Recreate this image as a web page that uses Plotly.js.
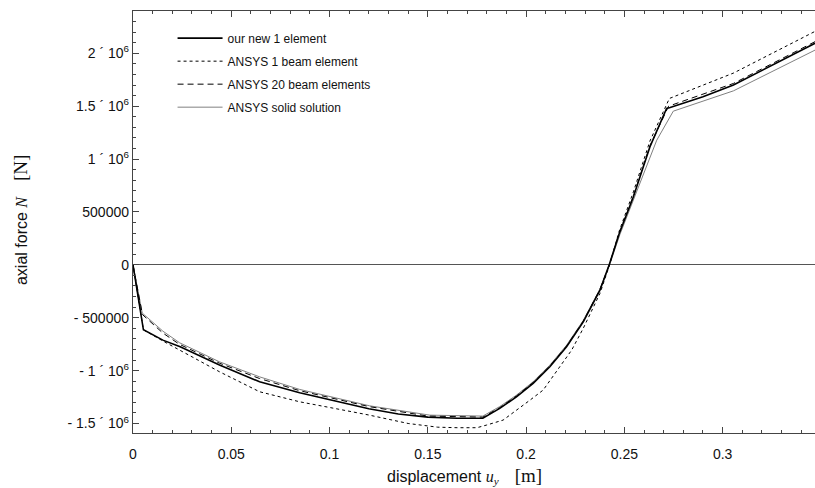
<!DOCTYPE html>
<html>
<head>
<meta charset="utf-8">
<script src="https://cdn.plot.ly/plotly-3.0.1.min.js"></script>
<style>html,body{margin:0;padding:0;background:#fff;}#chart{width:815px;height:488px;}</style>
</head>
<body>
<div id="chart"></div>
<script>
// displacement u_y [m] and axial force N [N]
var newX = [0, 0.0053, 0.0152, 0.024, 0.044, 0.0644, 0.0848, 0.1052, 0.12, 0.135, 0.15, 0.165, 0.178, 0.1866, 0.1951, 0.2036, 0.2121, 0.2206, 0.2291, 0.2376, 0.2423, 0.2474, 0.2546, 0.263, 0.2715, 0.2733, 0.29, 0.3055, 0.347];
var newY = [0, -614000, -712000, -775000, -948000, -1106000, -1210000, -1295000, -1360000, -1410000, -1440000, -1450000, -1450000, -1357000, -1248000, -1121000, -964000, -775000, -539000, -239000, 0, 297000, 643000, 1115000, 1478000, 1488000, 1590000, 1700000, 2095000];

var beam1X = [0, 0.0053, 0.0152, 0.0237, 0.044, 0.0644, 0.0848, 0.1052, 0.12, 0.14, 0.155, 0.165, 0.175, 0.1799, 0.1883, 0.202, 0.2087, 0.2232, 0.2291, 0.2376, 0.2425, 0.2474, 0.2546, 0.263, 0.2729, 0.3055, 0.347];
var beam1Y = [0, -614000, -720000, -806000, -1011000, -1200000, -1295000, -1367000, -1420000, -1500000, -1535000, -1540000, -1540000, -1515000, -1468000, -1279000, -1184000, -806000, -600000, -270000, 0, 320000, 690000, 1170000, 1573000, 1813000, 2207000];

var beam20X = [0, 0.0048, 0.0152, 0.0237, 0.044, 0.0644, 0.0848, 0.1052, 0.12, 0.15, 0.178, 0.1866, 0.1951, 0.2036, 0.2121, 0.2206, 0.2291, 0.2376, 0.2423, 0.2474, 0.2546, 0.263, 0.2725, 0.3055, 0.347];
var beam20Y = [0, -470000, -645000, -752000, -930000, -1075000, -1190000, -1275000, -1340000, -1430000, -1440000, -1350000, -1240000, -1112000, -955000, -768000, -532000, -233000, 0, 300000, 650000, 1125000, 1500000, 1715000, 2110000];

var solidX = [0, 0.0047, 0.0152, 0.0237, 0.044, 0.0644, 0.0848, 0.1052, 0.1204, 0.151, 0.178, 0.1866, 0.1951, 0.2036, 0.2121, 0.2206, 0.2291, 0.2376, 0.2425, 0.2478, 0.2546, 0.2665, 0.2749, 0.3055, 0.347];
var solidY = [0, -456000, -627000, -737000, -917000, -1059000, -1178000, -1263000, -1333000, -1421000, -1430000, -1340000, -1232000, -1105000, -948000, -760000, -525000, -228000, 0, 290000, 620000, 1179000, 1453000, 1645000, 2030000];

var seriesNames = ["our new 1 element", "ANSYS 1 beam element", "ANSYS 20 beam elements", "ANSYS solid solution"];

var yTickVals = [-1500000, -1000000, -500000, 0, 500000, 1000000, 1500000, 2000000];
var yTickText = ["- 1.5 \u00b4 10<sup>6</sup>", "- 1 \u00b4 10<sup>6</sup>", "- 500000", "0", "500000", "1 \u00b4 10<sup>6</sup>", "1.5 \u00b4 10<sup>6</sup>", "2 \u00b4 10<sup>6</sup>"];
var xTickVals = [0, 0.05, 0.1, 0.15, 0.2, 0.25, 0.3];
var xTickText = ["0", "0.05", "0.1", "0.15", "0.2", "0.25", "0.3"];

var FONT = "Liberation Sans, Arial, sans-serif";
var SERIF = "Liberation Serif, Times New Roman, serif";

var traces = [
  {x: solidX, y: solidY, name: seriesNames[3], mode: "lines", line: {color: "#808080", width: 1}, legendgroup: "d", legendrank: 4},
  {x: beam20X, y: beam20Y, name: seriesNames[2], mode: "lines", line: {color: "#000", width: 1, dash: "6px,4px"}, legendgroup: "c", legendrank: 3},
  {x: beam1X, y: beam1Y, name: seriesNames[1], mode: "lines", line: {color: "#000", width: 1, dash: "3px,3px"}, legendgroup: "b", legendrank: 2},
  {x: newX, y: newY, name: seriesNames[0], mode: "lines", line: {color: "#000", width: 1.6}, legendgroup: "a", legendrank: 1}
];

var layout = {
  width: 815, height: 488,
  margin: {l: 133, r: 0, t: 11, b: 55},
  paper_bgcolor: "#fff", plot_bgcolor: "#fff",
  font: {family: FONT, size: 14, color: "#111"},
  showlegend: true,
  legend: {
    x: 0.058, y: 0.97, xanchor: "left", yanchor: "top",
    bgcolor: "rgba(0,0,0,0)", borderwidth: 0,
    font: {family: FONT, size: 12, color: "#111"},
    traceorder: "grouped", tracegroupgap: 4, itemwidth: 45
  },
  xaxis: {
    range: [0, 0.347], showgrid: false, zeroline: false,
    showline: true, linecolor: "#444", linewidth: 1.2, mirror: "ticks",
    ticks: "inside", ticklen: 6, tickcolor: "#444", tickwidth: 1,
    tickvals: xTickVals, ticktext: xTickText,
    ticklabelstandoff: 8,
    minor: {dtick: 0.01, ticks: "inside", ticklen: 3, tickcolor: "#444", showgrid: false},
    tickfont: {family: FONT, size: 14, color: "#111"}
  },
  yaxis: {
    range: [-1590000, 2400000], showgrid: false,
    zeroline: true, zerolinecolor: "#555", zerolinewidth: 1.3,
    showline: true, linecolor: "#444", linewidth: 1.2, mirror: false,
    ticks: "inside", ticklen: 6, tickcolor: "#444", tickwidth: 1,
    tickvals: yTickVals, ticktext: yTickText,
    ticklabelstandoff: 0,
    minor: {dtick: 100000, ticks: "inside", ticklen: 3, tickcolor: "#444", showgrid: false},
    tickfont: {family: FONT, size: 14, color: "#111"}
  },
  annotations: [
    {xref: "paper", yref: "paper", x: 0.486, y: -0.102, xanchor: "center", yanchor: "middle", showarrow: false,
     text: "displacement <span style=\"font-family:" + SERIF + "\"><i>u<sub>y</sub></i>    <span style=\"font-size:19px\">[m]</span></span>",
     font: {family: FONT, size: 16, color: "#111"}},
    {xref: "paper", yref: "paper", x: -0.164, y: 0.505, xanchor: "center", yanchor: "middle", showarrow: false, textangle: -90,
     text: "axial force <span style=\"font-family:" + SERIF + "\"><i>N</i>    <span style=\"font-size:19px\">[N]</span></span>",
     font: {family: FONT, size: 16, color: "#111"}}
  ]
};

Plotly.newPlot("chart", traces, layout, {displayModeBar: false, staticPlot: true});
</script>
</body>
</html>
